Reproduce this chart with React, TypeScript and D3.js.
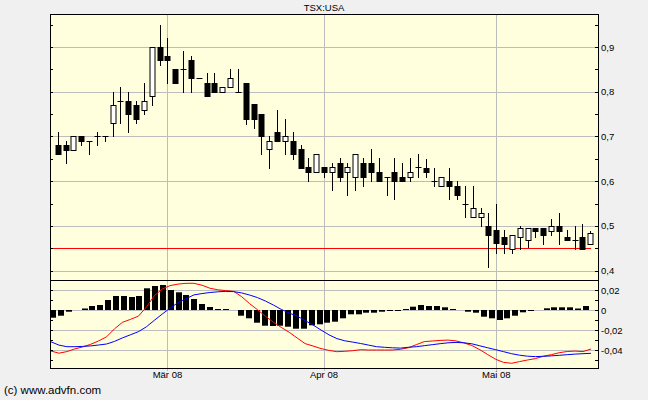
import React from 'react';
import * as d3 from 'd3';

// daily candles, Feb 11 - May 19 2008
const opens = [
  0.682, 0.682, 0.670, 0.700, 0.690, 0.700, 0.700, 0.730, 0.780, 0.780,
  0.771, 0.760, 0.791, 0.900, 0.881, 0.851, 0.851, 0.871, 0.831, 0.820,
  0.820, 0.800, 0.811, 0.800, 0.820, 0.772, 0.751, 0.671, 0.711, 0.690,
  0.691, 0.671, 0.631, 0.620, 0.631, 0.620, 0.641, 0.620, 0.610, 0.641,
  0.641, 0.620, 0.610, 0.620, 0.610, 0.610, 0.631, 0.630, 0.600, 0.590,
  0.600, 0.590, 0.549, 0.519, 0.519, 0.500, 0.490, 0.475, 0.449, 0.475,
  0.469, 0.495, 0.495, 0.489, 0.499, 0.475, 0.469, 0.475, 0.459,
];
const highs = [
  0.711, 0.691, 0.700, 0.700, 0.690, 0.711, 0.700, 0.800, 0.811, 0.800,
  0.780, 0.820, 0.900, 0.950, 0.920, 0.851, 0.891, 0.881, 0.831, 0.841,
  0.841, 0.811, 0.851, 0.851, 0.820, 0.772, 0.751, 0.700, 0.760, 0.740,
  0.711, 0.681, 0.651, 0.660, 0.631, 0.641, 0.651, 0.641, 0.660, 0.651,
  0.671, 0.651, 0.610, 0.651, 0.641, 0.651, 0.660, 0.650, 0.629, 0.609,
  0.629, 0.600, 0.590, 0.590, 0.540, 0.529, 0.549, 0.490, 0.479, 0.500,
  0.495, 0.495, 0.495, 0.515, 0.529, 0.490, 0.500, 0.504, 0.489,
];
const lows = [
  0.660, 0.640, 0.670, 0.681, 0.661, 0.681, 0.690, 0.700, 0.730, 0.710,
  0.730, 0.751, 0.771, 0.860, 0.820, 0.820, 0.800, 0.800, 0.831, 0.791,
  0.800, 0.800, 0.811, 0.800, 0.729, 0.719, 0.660, 0.629, 0.690, 0.660,
  0.650, 0.629, 0.600, 0.620, 0.610, 0.580, 0.600, 0.569, 0.580, 0.589,
  0.600, 0.600, 0.569, 0.560, 0.600, 0.600, 0.610, 0.610, 0.589, 0.590,
  0.560, 0.560, 0.519, 0.519, 0.500, 0.409, 0.439, 0.439, 0.439, 0.449,
  0.454, 0.475, 0.459, 0.479, 0.459, 0.469, 0.449, 0.449, 0.459,
];
const closes = [
  0.661, 0.670, 0.700, 0.690, 0.690, 0.700, 0.700, 0.771, 0.780, 0.751,
  0.739, 0.780, 0.900, 0.871, 0.871, 0.820, 0.851, 0.831, 0.831, 0.791,
  0.800, 0.811, 0.831, 0.800, 0.739, 0.739, 0.700, 0.690, 0.690, 0.700,
  0.660, 0.629, 0.620, 0.660, 0.620, 0.631, 0.610, 0.631, 0.660, 0.610,
  0.620, 0.600, 0.610, 0.600, 0.600, 0.620, 0.631, 0.620, 0.600, 0.609,
  0.589, 0.569, 0.549, 0.540, 0.529, 0.479, 0.463, 0.459, 0.479, 0.495,
  0.495, 0.489, 0.479, 0.499, 0.489, 0.469, 0.469, 0.449, 0.484,
];

const supportLevel = 0.45;

// MACD panel
const histogram = [
  -0.0077, -0.0057, -0.0017, 0, 0.0015, 0.004, 0.005, 0.01, 0.014, 0.014,
  0.013, 0.014, 0.0217, 0.024, 0.025, 0.02, 0.0177, 0.015, 0.011, 0.006,
  0.003, 0.001, 0.001, 0, -0.0057, -0.0083, -0.0127, -0.0157, -0.016, -0.0157,
  -0.0167, -0.0187, -0.0187, -0.0153, -0.0143, -0.0127, -0.0117, -0.0083, -0.0043, -0.0043,
  -0.0027, -0.0027, -0.0017, -0.001, -0.0007, 0.001, 0.0033, 0.005, 0.004, 0.004,
  0.0027, 0.001, 0, -0.0017, -0.0027, -0.0067, -0.0083, -0.01, -0.0083, -0.0057,
  -0.0023, -0.0007, 0, 0.0017, 0.0027, 0.0027, 0.0027, 0.0015, 0.004,
];
const redLine = [
  -0.041, -0.0432, -0.0416, -0.0389, -0.0369, -0.0343, -0.0309, -0.0268, -0.0188, -0.0123,
  -0.0094, -0.0062, 0.0028, 0.0142, 0.021, 0.0244, 0.0259, 0.0267, 0.0267, 0.0248,
  0.0218, 0.0202, 0.0194, 0.0186, 0.0134, 0.0064, 0.0003, -0.0062, -0.0122, -0.0174,
  -0.0223, -0.028, -0.0336, -0.036, -0.0386, -0.0404, -0.0417, -0.0413, -0.0407, -0.0397,
  -0.04, -0.04, -0.04, -0.04, -0.0393, -0.0377, -0.0347, -0.0316, -0.031, -0.0304,
  -0.0301, -0.0309, -0.0329, -0.0355, -0.0397, -0.0446, -0.0493, -0.0524, -0.0533, -0.0516,
  -0.05, -0.0486, -0.0462, -0.0447, -0.0427, -0.0415, -0.0411, -0.0416, -0.039,
];
const blueLine = [
  -0.0318, -0.0351, -0.0367, -0.0367, -0.0364, -0.0359, -0.035, -0.034, -0.0314, -0.0279,
  -0.0248, -0.0217, -0.0169, -0.0104, -0.0041, 0.0019, 0.0074, 0.0113, 0.0151, 0.0164,
  0.0175, 0.0182, 0.0186, 0.0184, 0.0171, 0.015, 0.0124, 0.009, 0.005, 0.0006,
  -0.0031, -0.0061, -0.0106, -0.015, -0.02, -0.0248, -0.0286, -0.0308, -0.0321, -0.0335,
  -0.0351, -0.0367, -0.0373, -0.0378, -0.0381, -0.0373, -0.0367, -0.0357, -0.0347, -0.0337,
  -0.0328, -0.0324, -0.0328, -0.0338, -0.0358, -0.0378, -0.0397, -0.0417, -0.0437, -0.0452,
  -0.0462, -0.0466, -0.0463, -0.0459, -0.0453, -0.0447, -0.0441, -0.0437, -0.0433,
];

const monthLabels = ['Mär 08', 'Apr 08', 'Mai 08'];
const monthStarts = [14, 34, 56];
const priceTicks = [0.4, 0.5, 0.6, 0.7, 0.8, 0.9];
const macdTicks = [0.02, 0, -0.02, -0.04];

const fmt = (v: number) => String(+v.toFixed(2)).replace('.', ',');

const W = 648, H = 400;
const left = 50, right = 598, top = 14, split = 280, bottom = 368;
const font = '"Liberation Sans", Arial, sans-serif';

export default function App() {
  const n = closes.length;
  const x = d3.scaleLinear().domain([-1, n]).range([left, right]);
  const y = d3.scaleLinear().domain([0.4, 0.9]).range([270.7, 47]);
  const ym = d3.scaleLinear().domain([-0.04, 0.02]).range([350, 290]);
  const xl = d3.scaleLinear().domain([0, n - 1]).range([51, 591]);

  const minorPrice = d3.range(0.4, 0.951, 0.05).filter(v => y(v) > top && y(v) < split);
  const minorMacd = d3.range(-0.05, 0.0251, 0.01).filter(v => ym(v) > split && ym(v) < bottom);

  const line = d3.line<number>().x((_, i) => xl(i)).y(d => ym(d));

  return (
    <svg width={W} height={H} style={{ position: 'absolute', left: 0, top: 0, background: '#f0f0f0' }}
      fontFamily={font}>
      <rect x={0} y={0} width={W} height={H} fill="#f0f0f0" />
      <rect x={left} y={top} width={right - left} height={bottom - top} fill="#ffffdd" />

      {/* grid */}
      {priceTicks.map(v => (
        <line key={'pg' + v} x1={left} x2={right} y1={Math.round(y(v)) + 0.5} y2={Math.round(y(v)) + 0.5}
          stroke="#bdbdbd" />
      ))}
      {macdTicks.map(v => (
        <line key={'mg' + v} x1={left} x2={right} y1={Math.round(ym(v)) + 0.5} y2={Math.round(ym(v)) + 0.5}
          stroke="#bdbdbd" />
      ))}
      {monthStarts.map(i => (
        <line key={'vg' + i} x1={Math.round(x(i)) + 0.5} x2={Math.round(x(i)) + 0.5} y1={top} y2={bottom + 3}
          stroke="#bdbdbd" />
      ))}

      {/* support line */}
      <line x1={left} x2={xl(n - 1)} y1={Math.round(y(supportLevel)) + 0.5} y2={Math.round(y(supportLevel)) + 0.5}
        stroke="#ff0000" />

      {/* candles */}
      {closes.map((c, i) => {
        const o = opens[i];
        const cx = Math.round(x(i)) + 0.5;
        const yt = Math.round(y(Math.max(o, c)));
        const yb = Math.round(y(Math.min(o, c)));
        const up = c > o;
        return (
          <g key={'c' + i}>
            <line x1={cx} x2={cx} y1={Math.round(y(highs[i]))} y2={Math.round(y(lows[i])) + 1} stroke="#000" />
            {yb - yt < 1 ? (
              <line x1={cx - 3} x2={cx + 3} y1={yt + 0.5} y2={yt + 0.5} stroke="#000" />
            ) : (
              <rect x={cx - 2.5} y={yt + 0.5} width={5} height={yb - yt} fill={up ? '#fff' : '#000'} stroke="#000" />
            )}
          </g>
        );
      })}

      {/* MACD histogram */}
      {histogram.map((v, i) => {
        const y0 = ym(0);
        const y1 = ym(v);
        const h = Math.abs(y1 - y0);
        if (h < 0.5) return null;
        return (
          <rect key={'h' + i} x={Math.round(x(i) - 7.5)} y={Math.min(y0, y1)} width={6} height={Math.max(h, 1)}
            fill="#000" />
        );
      })}
      <path d={line(redLine) || ''} fill="none" stroke="#ff0000" />
      <path d={line(blueLine) || ''} fill="none" stroke="#0000ff" />

      {/* frame */}
      <rect x={left + 0.5} y={top + 0.5} width={right - left} height={bottom - top} fill="none" stroke="#000" />
      <line x1={left} x2={right} y1={split + 0.5} y2={split + 0.5} stroke="#000" />

      {/* axis ticks */}
      {minorPrice.map(v => (
        <g key={'pt' + v}>
          <line x1={left} x2={left + 3} y1={Math.round(y(v)) + 0.5} y2={Math.round(y(v)) + 0.5} stroke="#000" />
          <line x1={right - 3} x2={right + 1} y1={Math.round(y(v)) + 0.5} y2={Math.round(y(v)) + 0.5} stroke="#000" />
        </g>
      ))}
      {minorMacd.map(v => (
        <g key={'mt' + v}>
          <line x1={left} x2={left + 3} y1={Math.round(ym(v)) + 0.5} y2={Math.round(ym(v)) + 0.5} stroke="#000" />
          <line x1={right - 3} x2={right + 1} y1={Math.round(ym(v)) + 0.5} y2={Math.round(ym(v)) + 0.5} stroke="#000" />
        </g>
      ))}

      {/* labels */}
      {priceTicks.map(v => (
        <text key={'pl' + v} x={right + 3} y={y(v) + 3.5} fontSize={9.5}>{fmt(v)}</text>
      ))}
      {macdTicks.map(v => (
        <text key={'ml' + v} x={right + 3} y={ym(v) + 3.5} fontSize={9.5}>{fmt(v)}</text>
      ))}
      {monthStarts.map((i, k) => (
        <text key={'xl' + i} x={x(i)} y={378} fontSize={9.5} textAnchor="middle">{monthLabels[k]}</text>
      ))}
      <text x={(left + right) / 2} y={11} fontSize={9.5} textAnchor="middle">TSX:USA</text>
      <text x={4} y={394} fontSize={11.5}>(c) www.advfn.com</text>
    </svg>
  );
}
